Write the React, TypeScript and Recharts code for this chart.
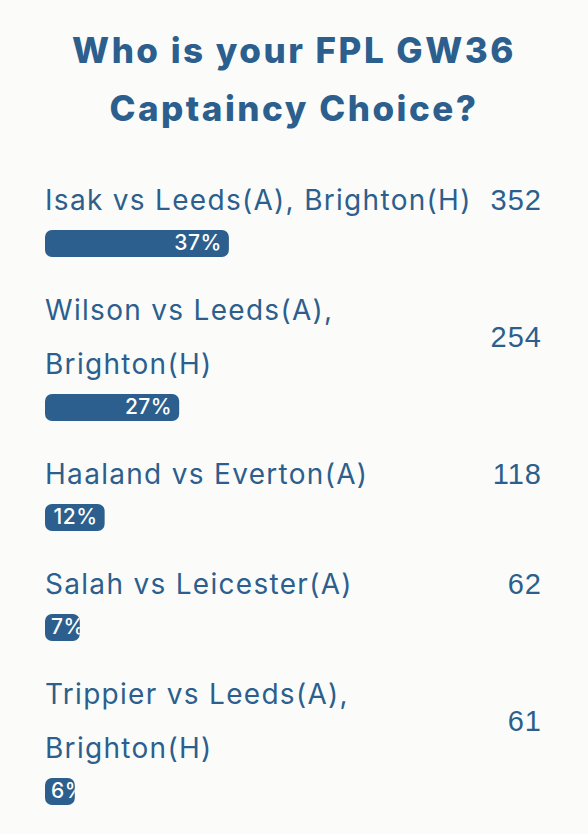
import React from 'react';
import { BarChart, Bar, XAxis, YAxis } from 'recharts';

const titleLines = ['Who is your FPL GW36', 'Captaincy Choice?'];
const optionLabels = [
  ['Isak vs Leeds(A), Brighton(H)'],
  ['Wilson vs Leeds(A),', 'Brighton(H)'],
  ['Haaland vs Everton(A)'],
  ['Salah vs Leicester(A)'],
  ['Trippier vs Leeds(A),', 'Brighton(H)'],
];
const votes = [352, 254, 118, 62, 61];
const percents = [37, 27, 12, 7, 6];

const BLUE = '#2c5f8d';
const BAR_W = 497;
const BAR_H = 30;

const PctBar = (props: any) => {
  const { x, y, width, height, index, value } = props;
  const pct = Array.isArray(value) ? value[1] : value;
  const label = `${pct}%`;
  const fs = 21;
  const textW = label.length * fs * 0.58;
  const fits = width >= textW + 14;
  const id = `clip-${props.rowId}-${index}`;
  return (
    <g>
      <defs>
        <clipPath id={id}>
          <rect x={x} y={y} width={width} height={height} rx={7} ry={7} />
        </clipPath>
      </defs>
      <rect x={x} y={y} width={width} height={height} rx={7} ry={7} fill={BLUE} />
      <text
        x={fits ? x + width - 7 : x + 6}
        y={y + height / 2 + 1}
        textAnchor={fits ? 'end' : 'start'}
        dominantBaseline="middle"
        fill="#ffffff"
        fontSize={fs}
        fontWeight={500}
        letterSpacing={0.5}
        fontFamily="Inter, 'Open Sans', sans-serif"
        clipPath={`url(#${id})`}
      >
        {label}
      </text>
    </g>
  );
};

const Row = ({ i }: { i: number }) => {
  const data = [{ name: optionLabels[i].join(' '), pct: percents[i] }];
  return (
    <div style={{ marginBottom: 25 }}>
      <div style={{ display: 'flex', alignItems: 'center', justifyContent: 'space-between' }}>
        <div>
          {optionLabels[i].map((line) => (
            <div
              key={line}
              style={{ height: 54, lineHeight: '54px', fontSize: 28, letterSpacing: 1.3, whiteSpace: 'nowrap' }}
            >
              {line}
            </div>
          ))}
        </div>
        <div style={{ fontFamily: "'Liberation Sans', Arial, sans-serif", fontSize: 29, letterSpacing: 1, marginRight: 0 }}>
          {votes[i]}
        </div>
      </div>
      <div style={{ marginTop: 1 }}>
        <BarChart width={BAR_W} height={BAR_H} data={data} layout="vertical" margin={{ top: 0, right: 0, bottom: 0, left: 0 }}>
          <XAxis type="number" domain={[0, 100]} hide />
          <YAxis type="category" dataKey="name" hide />
          <Bar dataKey="pct" barSize={BAR_H} isAnimationActive={false} shape={(p: any) => <PctBar {...p} rowId={i} />} />
        </BarChart>
      </div>
    </div>
  );
};

export default function App() {
  return (
    <div
      style={{
        position: 'absolute',
        left: 0,
        top: 0,
        width: 588,
        height: 834,
        background: '#fbfcfa',
        color: BLUE,
        fontFamily: "Inter, 'Open Sans', sans-serif",
        overflow: 'hidden',
      }}
    >
      <div style={{ paddingTop: 21, textAlign: 'center', fontWeight: 800, fontSize: 35, letterSpacing: 2.5, lineHeight: '58px' }}>
        {titleLines.map((t) => (
          <div key={t}>{t}</div>
        ))}
      </div>
      <div style={{ position: 'absolute', left: 45, top: 173, width: BAR_W }}>
        {optionLabels.map((_, i) => (
          <Row key={i} i={i} />
        ))}
      </div>
    </div>
  );
}
